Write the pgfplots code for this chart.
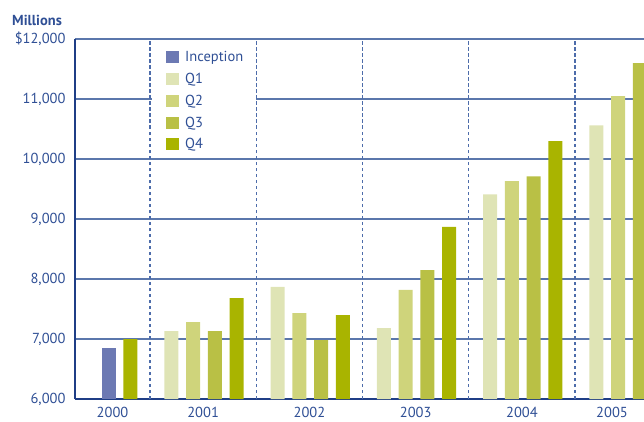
\documentclass[border=0pt]{standalone}
\usepackage{fontspec}
\setmainfont{PT Sans}
\usepackage{pgfplots}
\pgfplotsset{compat=1.18}
\definecolor{navy}{HTML}{1F3E86}
\definecolor{txt}{HTML}{2F4F95}
\definecolor{gridc}{HTML}{5B77AC}
\definecolor{dashc}{HTML}{4D6CAA}
\definecolor{cinc}{HTML}{6C79B3}
\definecolor{cqa}{HTML}{DFE4B5}
\definecolor{cqb}{HTML}{CFD47B}
\definecolor{cqc}{HTML}{B9C045}
\definecolor{cqd}{HTML}{A9B400}
\pgfplotsset{mybar/.style={ybar, bar width=0.132, bar shift=0pt, draw=none,
  legend image code/.code={\fill[##1] (0pt,-6pt) rectangle (13pt,6pt);}}}
\begin{document}
\begin{tikzpicture}
\begin{axis}[
  at={(0pt,0pt)}, anchor=south west,
  scale only axis, width=569pt, height=360pt,
  xmin=0.294, xmax=5.649, ymin=6000, ymax=12000,
  clip mode=individual,
  scaled y ticks=false,
  axis x line=bottom, axis y line=left,
  axis line style={-, line width=2.6pt, draw=navy},
  ytick={6000,7000,8000,9000,10000,11000,12000},
  yticklabels={{6,000},{7,000},{8,000},{9,000},{10,000},{11,000},{\$12,000}},
  ymajorgrids, major grid style={line width=1.3pt, draw=gridc},
  ytick style={draw=none}, major tick length=0pt,
  xtick={0.647,1.5,2.5,3.5,4.5,5.348},
  xticklabels={2000,2001,2002,2003,2004,2005},
  xtick style={draw=none},
  extra x ticks={1,2,3,4,5}, extra x tick labels={},
  extra x tick style={grid=major, tick align=outside, major tick length=15pt,
    tick style={line width=2.6pt, draw=navy},
    major grid style={line width=1.4pt, draw=dashc, dash pattern=on 3.5pt off 2.5pt}},
  every tick label/.append style={font=\fontsize{14.5}{17}\selectfont, text=txt},
  yticklabel style={xshift=-6pt},
  xticklabel style={anchor=base, yshift=-18.5pt},
  legend cell align=left,
  legend style={draw=none, fill=none, inner sep=0pt, anchor=north west,
    at={(axis description cs:0.160,0.972)}, font=\fontsize{14.5}{17}\selectfont,
    text=txt, row sep=6pt,
    /tikz/every odd column/.append style={column sep=4pt}},
]
\fill[white] (axis cs:1.017,10120) rectangle (axis cs:1.993,11950);
\addplot[mybar, fill=cinc] coordinates {(0.61,6850)};
\addplot[mybar, fill=cqa] coordinates {(1.2,7130) (2.2,7870) (3.2,7180) (4.2,9410) (5.2,10560)};
\addplot[mybar, fill=cqb] coordinates {(1.405,7280) (2.405,7430) (3.405,7820) (4.405,9630) (5.405,11050)};
\addplot[mybar, fill=cqc] coordinates {(1.61,7130) (2.61,6980) (3.61,8150) (4.61,9710) (5.61,11600)};
\addplot[mybar, fill=cqd] coordinates {(0.815,7000) (1.815,7680) (2.815,7400) (3.815,8870) (4.815,10300)};
\legend{Inception,Q1,Q2,Q3,Q4}
\end{axis}
\node[anchor=base west, font=\fontsize{14.5}{17}\selectfont\bfseries, text=txt, inner sep=0pt] at (-63pt,373pt) {Millions};
\pgfresetboundingbox
\path (-75pt,-22pt) rectangle (569pt,399pt);
\end{tikzpicture}
\end{document}
